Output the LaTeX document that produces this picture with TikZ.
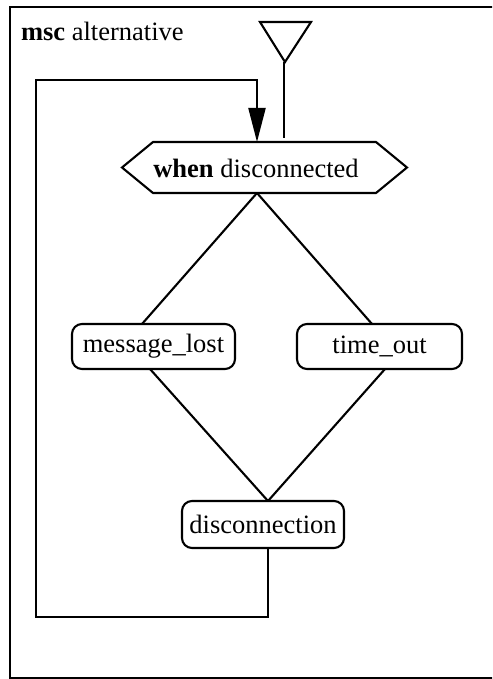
\documentclass[tikz,border=0pt]{standalone}
\usepackage{fontspec}
\setmainfont{Liberation Serif}
\usetikzlibrary{arrows.meta}
\begin{document}
\begin{tikzpicture}[x=1pt,y=-1pt, line width=2.1pt, line join=miter,
  box/.style={draw, rounded corners=10pt, inner sep=0pt, font=\fontsize{26.5}{30}\selectfont},
  lbl/.style={font=\fontsize{26.5}{30}\selectfont, inner sep=0pt}]
\useasboundingbox (0,0) rectangle (492,679);
\begin{scope}
\clip (0,0) rectangle (492,679);
\draw (10,7) rectangle (520,678);
\end{scope}
\node[lbl, anchor=base west] (title) at (20,41) {\textbf{msc} alternative};
% start symbol
\coordinate (t1) at (260,22);
\coordinate (t2) at (311,22);
\coordinate (t3) at (285,62);
\coordinate (tend) at (284,138);
\draw (t1) -- (t2) -- (t3) -- cycle;
\draw (284,62) -- (tend);
% condition hexagon
\coordinate (hl) at (122,167.5);
\coordinate (htl) at (153,142);
\coordinate (htr) at (376,142);
\coordinate (hr) at (407,167.5);
\coordinate (hbr) at (376,193);
\coordinate (hbl) at (153,193);
\coordinate (hb) at (257,193);
\coordinate (ht) at (257,142);
\draw (hl) -- (htl) -- (htr) -- (hr) -- (hbr) -- (hbl) -- cycle;
\node[lbl] (cond) at (256,168) {\textbf{when} disconnected};
% references
\node[box, minimum width=163pt, minimum height=45pt] (ml) at (153.5,346.5) {message\_lost};
\node[box, minimum width=165pt, minimum height=45pt] (to) at (379.5,346.5) {time\_out};
\node[box, minimum width=162pt, minimum height=47pt] (dc) at (263,524.5) {disconnection};
\coordinate (mlt) at (142,324);
\coordinate (tot) at (372,324);
\coordinate (mlb) at (150,369);
\coordinate (tob) at (385,369);
\coordinate (dct) at (268,501);
\coordinate (dcb) at (268,548);
\draw (hb) -- (mlt);
\draw (hb) -- (tot);
\draw (mlb) -- (dct);
\draw (tob) -- (dct);
% loop back
\coordinate (c1) at (268,617);
\coordinate (c2) at (36,617);
\coordinate (c3) at (36,80);
\coordinate (c4) at (257,80);
\draw[-{Triangle[length=34pt,width=17pt]}] (dcb) -- (c1) -- (c2) -- (c3) -- (c4) -- (ht);
\end{tikzpicture}
\end{document}
